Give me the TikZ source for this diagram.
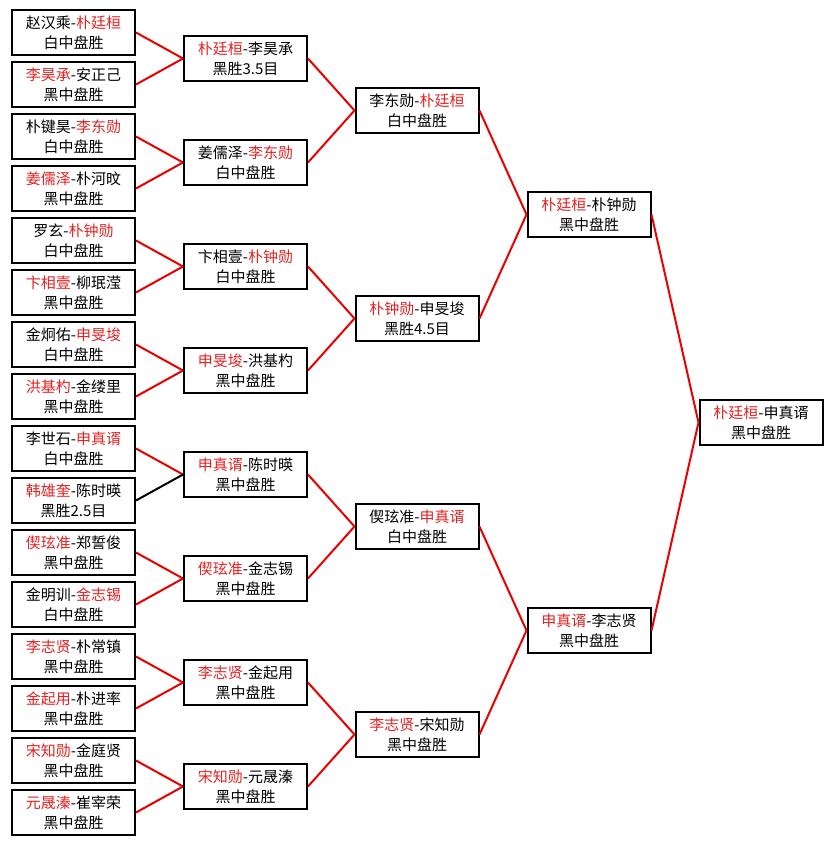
\documentclass[tikz,border=0pt]{standalone}
\usepackage{fontspec}
\setmainfont{Noto Sans CJK SC}
\definecolor{winred}{RGB}{225,35,35}
\definecolor{linkred}{RGB}{235,0,0}
\newcommand{\win}[1]{\textcolor{winred}{#1}}
\tikzset{
  game/.style={draw, line width=2pt, fill=white, minimum width=123pt,
    minimum height=45pt, inner sep=0pt, align=center,
    font=\fontsize{15}{20}\selectfont},
  link/.style={draw=linkred, line width=2pt},
  lostlink/.style={draw=black, line width=2pt}
}
\begin{document}
\begin{tikzpicture}[x=1pt,y=-1pt]
\useasboundingbox[fill=white] (0,0) rectangle (832,845);
% first round
\node[game] (a1) at (73.5,32.5) {赵汉乘-\win{朴廷桓}\\白中盘胜};
\node[game] (a2) at (73.5,84.5) {\win{李昊承}-安正己\\黑中盘胜};
\node[game] (a3) at (73.5,136.5) {朴键昊-\win{李东勋}\\白中盘胜};
\node[game] (a4) at (73.5,188.5) {\win{姜儒泽}-朴河旼\\黑中盘胜};
\node[game] (a5) at (73.5,240.5) {罗玄-\win{朴钟勋}\\白中盘胜};
\node[game] (a6) at (73.5,292.5) {\win{卞相壹}-柳珉滢\\黑中盘胜};
\node[game] (a7) at (73.5,344.5) {金炯佑-\win{申旻埈}\\白中盘胜};
\node[game] (a8) at (73.5,396.5) {\win{洪基杓}-金缕里\\黑中盘胜};
\node[game] (a9) at (73.5,448.5) {李世石-\win{申真谞}\\白中盘胜};
\node[game] (a10) at (73.5,500.5) {\win{韩雄奎}-陈时暎\\黑胜2.5目};
\node[game] (a11) at (73.5,552.5) {\win{偰玹准}-郑誓俊\\黑中盘胜};
\node[game] (a12) at (73.5,604.5) {金明训-\win{金志锡}\\白中盘胜};
\node[game] (a13) at (73.5,656.5) {\win{李志贤}-朴常镇\\黑中盘胜};
\node[game] (a14) at (73.5,708.5) {\win{金起用}-朴进率\\黑中盘胜};
\node[game] (a15) at (73.5,760.5) {\win{宋知勋}-金庭贤\\黑中盘胜};
\node[game] (a16) at (73.5,812.5) {\win{元晟溱}-崔宰荣\\黑中盘胜};
% second round
\node[game] (b1) at (245.5,58.5) {\win{朴廷桓}-李昊承\\黑胜3.5目};
\node[game] (b2) at (245.5,162.5) {姜儒泽-\win{李东勋}\\白中盘胜};
\node[game] (b3) at (245.5,266.5) {卞相壹-\win{朴钟勋}\\白中盘胜};
\node[game] (b4) at (245.5,370.5) {\win{申旻埈}-洪基杓\\黑中盘胜};
\node[game] (b5) at (245.5,474.5) {\win{申真谞}-陈时暎\\黑中盘胜};
\node[game] (b6) at (245.5,578.5) {\win{偰玹准}-金志锡\\黑中盘胜};
\node[game] (b7) at (245.5,682.5) {\win{李志贤}-金起用\\黑中盘胜};
\node[game] (b8) at (245.5,786.5) {\win{宋知勋}-元晟溱\\黑中盘胜};
% quarter finals
\node[game] (c1) at (417,110.5) {李东勋-\win{朴廷桓}\\白中盘胜};
\node[game] (c2) at (417,318.5) {\win{朴钟勋}-申旻埈\\黑胜4.5目};
\node[game] (c3) at (417,526.5) {偰玹准-\win{申真谞}\\白中盘胜};
\node[game] (c4) at (417,734.5) {\win{李志贤}-宋知勋\\黑中盘胜};
% semi finals
\node[game] (d1) at (589,214.5) {\win{朴廷桓}-朴钟勋\\黑中盘胜};
\node[game] (d2) at (589,630.5) {\win{申真谞}-李志贤\\黑中盘胜};
% final
\node[game] (e1) at (761,422.5) {\win{朴廷桓}-申真谞\\黑中盘胜};
% links
\foreach \from/\to in {a1/b1,a2/b1,a3/b2,a4/b2,a5/b3,a6/b3,a7/b4,a8/b4,
    a9/b5,a11/b6,a12/b6,a13/b7,a14/b7,a15/b8,a16/b8,
    b1/c1,b2/c1,b3/c2,b4/c2,b5/c3,b6/c3,b7/c4,b8/c4,
    c1/d1,c2/d1,c3/d2,c4/d2,d1/e1,d2/e1}
  \draw[link] (\from.east) -- (\to.west);
\draw[lostlink] (a10.east) -- (b5.west);
\end{tikzpicture}
\end{document}
